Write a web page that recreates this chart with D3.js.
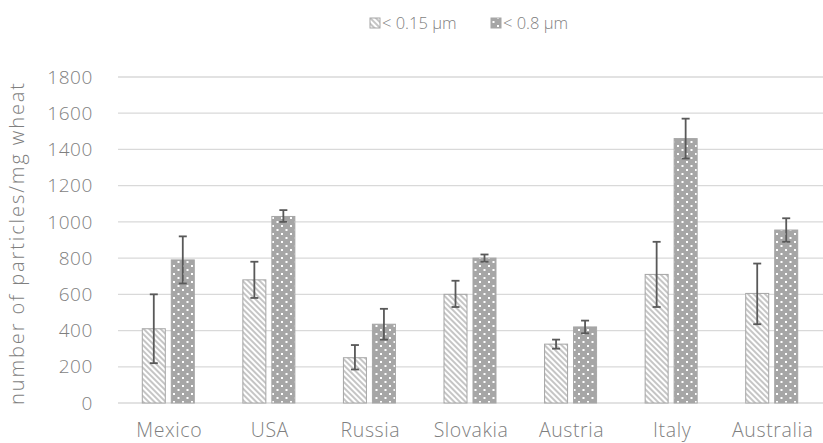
<!DOCTYPE html>
<html>
<head>
<meta charset="utf-8">
<script src="https://cdn.jsdelivr.net/npm/d3@7"></script>
<style>
body { margin: 0; background: #fff; }
svg text { font-family: "Open Sans", "Noto Sans", sans-serif; fill: #7f7f7f; font-weight: 300; }
</style>
</head>
<body>
<svg id="chart" width="823" height="443"></svg>
<script>
var countries = ["Mexico", "USA", "Russia", "Slovakia", "Austria", "Italy", "Australia"];
var seriesNames = ["< 0.15 µm", "< 0.8 µm"];
var fineValues = [410, 680, 250, 600, 325, 710, 605];
var fineLow = [220, 580, 185, 530, 300, 530, 435];
var fineHigh = [600, 780, 320, 675, 350, 890, 770];
var coarseValues = [790, 1030, 435, 800, 420, 1460, 955];
var coarseLow = [660, 1000, 350, 780, 385, 1350, 890];
var coarseHigh = [920, 1065, 520, 820, 455, 1570, 1020];
var yTicks = [0, 200, 400, 600, 800, 1000, 1200, 1400, 1600, 1800];

var svg = d3.select("#chart");
const margins = {top: 77, right: 0, bottom: 40, left: 118};
var width = 823, height = 443;

var defs = svg.append("defs");
var hatch = defs.append("pattern").attr("id", "hatch")
    .attr("patternUnits", "userSpaceOnUse").attr("width", 4).attr("height", 4)
    .attr("patternTransform", "rotate(-45)");
hatch.append("rect").attr("width", 4).attr("height", 4).attr("fill", "white");
hatch.append("line").attr("x1", 1).attr("y1", 0).attr("x2", 1).attr("y2", 4)
    .attr("stroke", "#a6a6a6").attr("stroke-width", 1.3);

var dots = defs.append("pattern").attr("id", "dots")
    .attr("patternUnits", "userSpaceOnUse").attr("width", 9).attr("height", 8);
dots.append("rect").attr("width", 9).attr("height", 8).attr("fill", "#a6a6a6");
dots.append("rect").attr("x", 2).attr("y", 1).attr("width", 2).attr("height", 2).attr("fill", "white");
dots.append("rect").attr("x", 6.5).attr("y", 5).attr("width", 2).attr("height", 2).attr("fill", "white");

var x = d3.scaleBand().domain(countries).range([margins.left, 822]);
var y = d3.scaleLinear().domain([0, 1800]).range([403, margins.top]);

// gridlines
svg.append("g").selectAll("line").data(yTicks).enter().append("line")
    .attr("x1", margins.left).attr("x2", 823)
    .attr("y1", d => y(d)).attr("y2", d => y(d))
    .attr("stroke", "#d9d9d9").attr("stroke-width", 1.3);

svg.append("g").selectAll("text").data(yTicks).enter().append("text")
    .attr("x", 93).attr("y", d => y(d)).attr("dy", "0.35em")
    .attr("text-anchor", "end").attr("font-size", 19).attr("letter-spacing", 0.6).text(d => d);

svg.append("text")
    .attr("transform", "translate(17,244) rotate(-90)")
    .attr("dy", "0.35em")
    .attr("text-anchor", "middle").attr("font-size", 20)
    .attr("textLength", 322).attr("lengthAdjust", "spacing")
    .text("number of particles/mg wheat");

svg.append("g").selectAll("text").data(countries).enter().append("text")
    .attr("x", d => x(d) + x.bandwidth() / 2 + 1).attr("y", 437)
    .attr("text-anchor", "middle").attr("font-size", 19.5).attr("letter-spacing", 0.6).text(d => d);

var barW = 23, gap = 6;
var series = [
    {vals: fineValues, lo: fineLow, hi: fineHigh, fill: "url(#hatch)", off: -gap / 2 - barW},
    {vals: coarseValues, lo: coarseLow, hi: coarseHigh, fill: "url(#dots)", off: gap / 2}
];

series.forEach(function(s) {
    var g = svg.append("g");
    g.selectAll("rect").data(countries).enter().append("rect")
        .attr("x", (d, i) => x(d) + x.bandwidth() / 2 + s.off)
        .attr("y", (d, i) => y(s.vals[i]))
        .attr("width", barW)
        .attr("height", (d, i) => y(0) - y(s.vals[i]))
        .attr("fill", s.fill)
        .attr("stroke", "#a6a6a6").attr("stroke-width", 1);
    var e = svg.append("g").attr("stroke", "#595959").attr("stroke-width", 1.8);
    countries.forEach(function(c, i) {
        var cx = x(c) + x.bandwidth() / 2 + s.off + barW / 2;
        e.append("line").attr("x1", cx).attr("x2", cx).attr("y1", y(s.lo[i])).attr("y2", y(s.hi[i]));
        e.append("line").attr("x1", cx - 4).attr("x2", cx + 4).attr("y1", y(s.lo[i])).attr("y2", y(s.lo[i]));
        e.append("line").attr("x1", cx - 4).attr("x2", cx + 4).attr("y1", y(s.hi[i])).attr("y2", y(s.hi[i]));
    });
});

// legend
var legendX = [370, 491];
var legendFills = ["url(#hatch)", "url(#dots)"];
seriesNames.forEach(function(name, i) {
    svg.append("rect").attr("x", legendX[i]).attr("y", 18).attr("width", 10).attr("height", 10)
        .attr("fill", legendFills[i]).attr("stroke", "#a6a6a6");
    svg.append("text").attr("x", legendX[i] + 12).attr("y", 23).attr("dy", "0.35em")
        .attr("font-size", 16.5).text(name);
});
</script>
</body>
</html>
